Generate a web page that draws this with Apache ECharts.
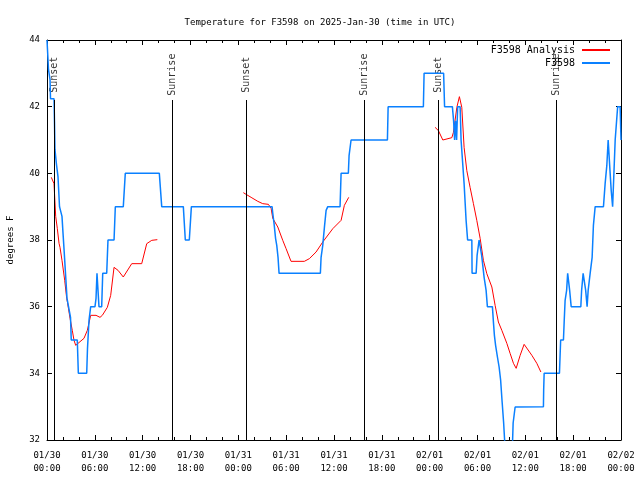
<!DOCTYPE html>
<html><head><meta charset="utf-8">
<script src="https://cdn.jsdelivr.net/npm/echarts@6/dist/echarts.min.js"></script>
<style>html,body{margin:0;padding:0;background:#fff}#c{width:640px;height:480px}</style>
</head><body><div id="c"></div>
<script>
const titleText = 'Temperature for F3598 on 2025-Jan-30 (time in UTC)';
const yAxisTitle = 'degrees F';
const startUTC = Date.UTC(2025, 0, 30, 0, 0);
const xMin = 0, xMax = 72, xStep = 6;      // hours since start
const yMin = 32, yMax = 44, yStep = 2;      // degrees F
const analysisName = 'F3598 Analysis';
const observedName = 'F3598';

// [hour since 01/30 00:00 UTC, degrees F]
const analysisA = [[0.54,39.88],[0.88,39.69],[1.09,38.71],[1.29,38.35],[1.51,37.9],[1.63,37.78],[1.88,37.39],[2.22,36.79],[2.47,36.25],[2.57,36.13],[2.89,35.65],[3.17,35.29],[3.39,34.99],[3.60,34.84],[3.80,34.84],[4.64,35.05],[5.06,35.29],[5.48,35.74],[5.65,35.80],[6.15,35.74],[6.65,35.68],[6.94,35.74],[7.57,35.98],[7.99,36.34],[8.41,37.18],[8.62,37.19],[8.91,37.09],[9.57,36.89],[10.63,37.29],[11.88,37.29],[12.51,37.89],[13.14,37.99],[13.84,38.01]];
const analysisB = [[24.63,39.42],[24.97,39.37],[25.60,39.28],[26.44,39.16],[27.06,39.09],[27.77,39.07],[28.11,38.95],[28.32,38.65],[28.95,38.39],[29.57,37.99],[29.99,37.74],[30.61,37.36],[32.28,37.36],[32.91,37.44],[33.75,37.64],[34.59,37.94],[35.85,38.34],[36.89,38.59],[37.30,39.04],[37.85,39.28]];
const analysisC = [[48.68,41.38],[49.10,41.28],[49.65,41.0],[50.78,41.07],[50.98,41.23],[51.41,41.98],[51.73,42.30],[52.03,41.98],[52.32,40.78],[52.66,40.08],[53.07,39.58],[53.49,39.09],[53.91,38.59],[54.33,38.05],[54.74,37.39],[55.17,36.99],[55.80,36.59],[56.21,36.04],[56.62,35.54],[57.05,35.29],[57.68,34.90],[58.09,34.60],[58.51,34.30],[58.85,34.15],[59.35,34.54],[59.85,34.87],[60.82,34.54],[61.44,34.30],[61.95,34.04]];
const observed = [[0,44],[0.13,43.98],[0.19,43.11],[0.38,42.81],[0.44,42.24],[0.88,42.24],[0.94,41.55],[1.0,40.71],[1.19,40.26],[1.38,39.9],[1.57,39.0],[1.82,39.0],[1.88,38.71],[2.01,38.2],[2.13,37.75],[2.32,37.0],[2.51,36.25],[2.70,36.0],[2.95,35.68],[3.04,35.0],[3.80,35.0],[3.93,34.0],[4.98,34.0],[5.08,34.75],[5.27,35.59],[5.48,36.0],[6.02,36.0],[6.15,36.25],[6.27,37.0],[6.40,37.0],[6.52,36.0],[6.86,36.0],[6.99,37.0],[7.49,37.0],[7.65,38.0],[8.41,38.0],[8.57,39.0],[9.57,39.0],[9.82,40.0],[14.09,40.0],[14.39,39.0],[17.10,39.0],[17.35,38.0],[17.85,38.0],[18.11,39.0],[28.23,39.0],[28.32,38.8],[28.48,38.5],[28.67,38.05],[28.82,37.84],[28.98,37.48],[29.11,37.0],[34.29,37.0],[34.38,37.48],[34.59,37.84],[34.82,38.44],[35.01,38.89],[35.22,39.0],[36.76,39.0],[36.89,40.0],[37.80,40.0],[37.89,40.53],[38.14,41.0],[42.70,41.0],[42.79,42.0],[47.21,42.0],[47.30,43.0],[49.75,43.0],[49.87,42.0],[50.85,42.0],[51.0,41.58],[51.13,41.0],[51.25,41.58],[51.38,41.0],[51.51,42.0],[51.82,42.0],[51.94,41.0],[52.13,41.0],[52.32,39.69],[52.57,38.59],[52.76,38.0],[53.29,38.0],[53.32,37.0],[53.83,37.0],[53.95,37.54],[54.20,38.0],[54.42,38.0],[54.52,37.54],[54.83,36.88],[55.08,36.49],[55.24,36.0],[55.87,36.0],[56.0,35.53],[56.12,35.14],[56.27,34.84],[56.50,34.49],[56.71,34.19],[56.90,33.8],[57.09,33.14],[57.28,32.51],[57.40,32.0],[57.53,31.5],[58.34,31.5],[58.47,32.51],[58.72,32.99],[62.27,33.0],[62.30,33.5],[62.36,34.0],[64.28,34.0],[64.43,35.0],[64.78,35.0],[64.87,35.53],[64.99,36.19],[65.18,36.49],[65.31,37.0],[65.43,37.0],[65.56,36.49],[65.75,36.0],[66.96,36.0],[67.06,36.49],[67.25,37.0],[67.38,37.0],[67.57,36.49],[67.75,36.0],[67.88,36.49],[68.13,37.0],[68.38,37.48],[68.54,38.44],[68.76,39.0],[69.80,39.0],[70.01,39.69],[70.22,40.23],[70.39,41.0],[70.58,40.23],[70.77,39.49],[70.95,39.0],[71.05,39.0],[71.27,41.0],[71.58,42.0],[71.89,42.0],[72.0,41.0]];

const sunNames = ['Sunset','Sunrise','Sunset','Sunrise','Sunset','Sunrise'];
const sunHours = [0.94, 15.72, 25.0, 39.81, 49.10, 63.90];
const sunLineTop = 42.2;   // where the vertical marker line stops
const sunLabelAt = 42.93;  // where the rotated label sits

const FONT = 'DejaVu Sans Mono';
const pad = n => String(n).padStart(2, '0');
function fmtHour(h) {
  const d = new Date(startUTC + h * 3600000);
  return pad(d.getUTCMonth() + 1) + '/' + pad(d.getUTCDate()) + '\n' + pad(d.getUTCHours()) + ':' + pad(d.getUTCMinutes());
}

const chart = echarts.init(document.getElementById('c'), null, {renderer: 'canvas'});
const axisLine = {show: true, onZero: false, lineStyle: {color: '#000', width: 1}};
const xCommon = {
  type: 'value', min: xMin, max: xMax, interval: xStep,
  axisLine: axisLine,
  axisTick: {show: true, inside: true, length: 5, lineStyle: {color: '#000'}},
  minorTick: {show: true, splitNumber: 3, length: 3, lineStyle: {color: '#000'}},
  splitLine: {show: false}
};
const yCommon = {
  type: 'value', min: yMin, max: yMax, interval: yStep,
  axisLine: axisLine,
  axisTick: {show: true, inside: true, length: 5, lineStyle: {color: '#000'}},
  splitLine: {show: false}
};
const redStyle = {color: '#ff0000', width: 1};
const analysisSeries = [analysisA, analysisB, analysisC].map(seg => ({
  name: analysisName, type: 'line', data: seg, showSymbol: false, symbol: 'none',
  color: '#ff0000', lineStyle: redStyle, z: 3, animation: false
}));

chart.setOption({
  animation: false,
  backgroundColor: '#fff',
  textStyle: {fontFamily: FONT, color: '#000'},
  title: {text: titleText, left: 'center', top: 13,
    textStyle: {fontFamily: FONT, fontSize: 9, fontWeight: 'normal', color: '#000'}},
  grid: {left: 47, right: 19, top: 40, bottom: 40, containLabel: false, outerBoundsMode: 'none'},
  legend: {
    orient: 'vertical', right: 25, top: 40, align: 'right',
    itemWidth: 28, itemHeight: 2, itemGap: 3, icon: 'rect',
    textStyle: {fontFamily: FONT, fontSize: 10, color: '#000', padding: [0, 2, 0, 0]},
    data: [analysisName, observedName]
  },
  xAxis: [
    Object.assign({}, xCommon, {position: 'bottom',
      axisLabel: {show: true, formatter: fmtHour, fontFamily: FONT, fontSize: 9, color: '#000',
        lineHeight: 13, margin: 9, showMinLabel: true, showMaxLabel: true}}),
    Object.assign({}, xCommon, {position: 'top', axisLabel: {show: false}})
  ],
  yAxis: [
    Object.assign({}, yCommon, {position: 'left', name: yAxisTitle, nameLocation: 'middle',
      nameGap: 32, nameRotate: 90,
      nameTextStyle: {fontFamily: FONT, fontSize: 9, color: '#000'},
      axisLabel: {show: true, fontFamily: FONT, fontSize: 9, color: '#000', margin: 7}}),
    Object.assign({}, yCommon, {position: 'right', axisLabel: {show: false}})
  ],
  series: [
    {
      name: 'sun', type: 'scatter', symbolSize: 0, silent: true, z: 2,
      data: sunHours.map((h, i) => ({value: [h, sunLabelAt], name: sunNames[i]})),
      label: {show: true, formatter: p => p.name, rotate: 90, position: 'inside', offset: [1, 0],
        fontFamily: FONT, fontSize: 10, color: '#000'},
      markLine: {
        silent: true, symbol: 'none', animation: false,
        label: {show: false},
        lineStyle: {color: '#000', width: 1, type: 'solid'},
        data: sunHours.map(h => [{coord: [h, yMin]}, {coord: [h, sunLineTop]}])
      }
    },
    ...analysisSeries,
    {
      name: observedName, type: 'line', data: observed, showSymbol: false, symbol: 'none',
      color: '#0a80ff', lineStyle: {color: '#0a80ff', width: 1.5}, z: 4, clip: true
    }
  ]
});
</script>
</body></html>
